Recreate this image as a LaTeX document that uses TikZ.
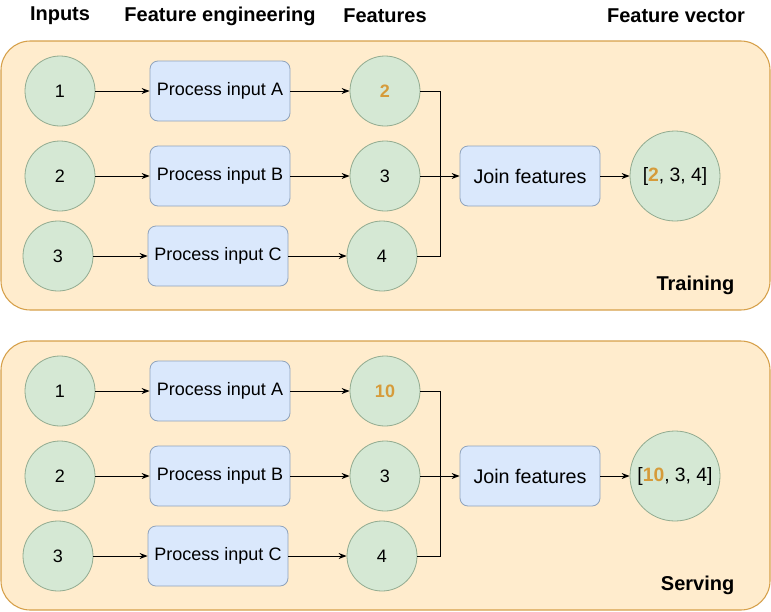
\documentclass[tikz,border=0pt]{standalone}
\usepackage{fontspec}
\setmainfont{Liberation Sans}
\usetikzlibrary{arrows.meta}
\definecolor{panelfill}{HTML}{FFECCD}
\definecolor{paneledge}{HTML}{D6A04A}
\definecolor{circfill}{HTML}{D5E8D4}
\definecolor{circedge}{HTML}{92AB90}
\definecolor{boxfill}{HTML}{DAE8FC}
\definecolor{boxedge}{HTML}{8FA3BC}
\definecolor{hitext}{HTML}{D69B3A}

\begin{document}
\begin{tikzpicture}[x=0.75pt, y=-0.75pt,
    panel/.style={draw=paneledge, fill=panelfill, line width=0.8pt, rounded corners=22pt},
    feat/.style={circle, draw=circedge, fill=circfill, line width=0.6pt, minimum size=52.5pt, inner sep=0pt, font=\fontsize{13.5}{16}\selectfont},
    vec/.style={feat, minimum size=67.5pt, font=\fontsize{14.5}{17}\selectfont},
    proc/.style={rectangle, rounded corners=6pt, draw=boxedge, fill=boxfill, line width=0.6pt, minimum width=105pt, minimum height=45pt, font=\fontsize{13.5}{16}\selectfont},
    joinbox/.style={proc, font=\fontsize{14.8}{17}\selectfont},
    arr/.style={-{Stealth[length=6pt, width=4.5pt]}, line width=0.75pt},
    head/.style={font=\bfseries\fontsize{15}{18}\selectfont}]
    \useasboundingbox (0,0) rectangle (771,611);

    % column titles
    \node[head] (hinp) at (60,16) {Inputs};
    \node[head] (heng) at (220,16) {Feature engineering};
    \node[head] (hfeat) at (385,16) {Features};
    \node[head] (hvec) at (676,16) {Feature vector};

    % training
    \draw[panel] (1,41) rectangle (770,310);
    \node[feat] (tin1) at (60,91) {1};
    \node[feat] (tin2) at (60,176) {2};
    \node[feat] (tin3) at (58,256) {3};
    \node[proc] (tprocA) at (220,91) {Process input A};
    \node[proc] (tprocB) at (220,176) {Process input B};
    \node[proc] (tprocC) at (218,256) {Process input C};
    \node[feat] (tf1) at (385,91) {\textcolor{hitext}{\bfseries 2}};
    \node[feat] (tf2) at (385,176) {3};
    \node[feat] (tf3) at (382,256) {4};
    \node[joinbox] (tjoin) at (530,176) {Join features};
    \node[vec] (tvec) at (675,176) {{[}\textcolor{hitext}{\bfseries 2}, 3, 4{]}};
    \node[head, anchor=east] (tlabel) at (739,285) {Training};
    \coordinate (tmid) at (440,176);
    \draw[arr] (tin1) -- (tprocA);
    \draw[arr] (tin2) -- (tprocB);
    \draw[arr] (tin3) -- (tprocC);
    \draw[arr] (tprocA) -- (tf1);
    \draw[arr] (tprocB) -- (tf2);
    \draw[arr] (tprocC) -- (tf3);
    \draw[line width=0.75pt] (tf1.east) -| (tmid);
    \draw[line width=0.75pt] (tf3.east) -| (tmid);
    \draw[arr] (tf2) -- (tjoin);
    \draw[arr] (tjoin) -- (tvec);

    % serving
    \draw[panel] (1,341) rectangle (770,610);
    \node[feat] (sin1) at (60,391) {1};
    \node[feat] (sin2) at (60,476) {2};
    \node[feat] (sin3) at (58,556) {3};
    \node[proc] (sprocA) at (220,391) {Process input A};
    \node[proc] (sprocB) at (220,476) {Process input B};
    \node[proc] (sprocC) at (218,556) {Process input C};
    \node[feat] (sf1) at (385,391) {\textcolor{hitext}{\bfseries 10}};
    \node[feat] (sf2) at (385,476) {3};
    \node[feat] (sf3) at (382,556) {4};
    \node[joinbox] (sjoin) at (530,476) {Join features};
    \node[vec] (svec) at (675,476) {{[}\textcolor{hitext}{\bfseries 10}, 3, 4{]}};
    \node[head, anchor=east] (slabel) at (739,585) {Serving};
    \coordinate (smid) at (440,476);
    \draw[arr] (sin1) -- (sprocA);
    \draw[arr] (sin2) -- (sprocB);
    \draw[arr] (sin3) -- (sprocC);
    \draw[arr] (sprocA) -- (sf1);
    \draw[arr] (sprocB) -- (sf2);
    \draw[arr] (sprocC) -- (sf3);
    \draw[line width=0.75pt] (sf1.east) -| (smid);
    \draw[line width=0.75pt] (sf3.east) -| (smid);
    \draw[arr] (sf2) -- (sjoin);
    \draw[arr] (sjoin) -- (svec);
\end{tikzpicture}
\end{document}
